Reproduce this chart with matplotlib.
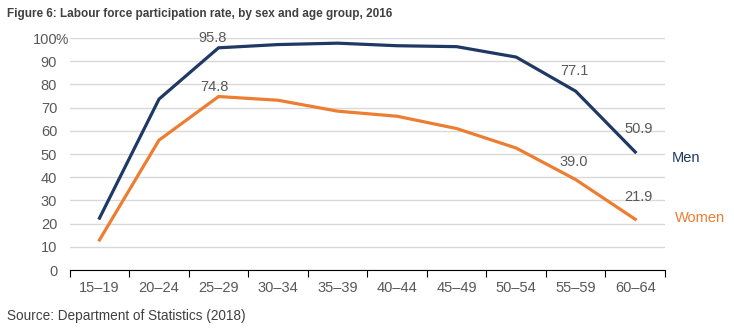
import matplotlib.pyplot as plt
from matplotlib.transforms import offset_copy

plt.rcParams['font.family'] = ['Liberation Sans', 'DejaVu Sans']

age_groups = ['15–19', '20–24', '25–29', '30–34', '35–39', '40–44', '45–49', '50–54', '55–59', '60–64']
men = [22.4, 73.7, 95.8, 97.2, 97.8, 96.7, 96.3, 91.8, 77.1, 50.9]
women = [13.0, 56.0, 74.8, 73.2, 68.5, 66.3, 61.0, 52.6, 39.0, 21.9]

navy = '#1f3864'
orange = '#ed7d31'
grey_text = '#595959'

# data label placement (index -> offset in points)
men_lbl = {2: (-4.3, 7.2), 8: (-0.7, 14.4), 9: (2.2, 16.6)}
women_lbl = {2: (-2.9, 7.2), 8: (-1.4, 13.0), 9: (2.2, 15.8)}

fig = plt.figure(figsize=(7.34, 3.31), dpi=100)
ax = fig.add_axes([0.095, 0.184, 0.811, 0.701])

x = list(range(len(age_groups)))
ax.plot(x, men, color=navy, lw=2.3, solid_joinstyle='miter')
ax.plot(x, women, color=orange, lw=2.3, solid_joinstyle='miter')

for vals, lbls in ((men, men_lbl), (women, women_lbl)):
    for i, off in lbls.items():
        ax.annotate(f'{vals[i]:.1f}', (i, vals[i]), xytext=off, textcoords='offset points',
                    ha='center', va='center', fontsize=10.5, color=grey_text)

ax.annotate('Men', (9, men[9]), xytext=(26.6, -4.3), textcoords='offset points',
            ha='left', va='center', fontsize=10.5, color=navy)
ax.annotate('Women', (9, women[9]), xytext=(28.8, 0.8), textcoords='offset points',
            ha='left', va='center', fontsize=10.5, color=orange)

ax.set_xlim(-0.5, len(age_groups) - 0.5)
ax.set_ylim(0, 100)
ax.set_yticks(range(0, 101, 10))
ax.set_yticklabels([str(v) for v in range(0, 101, 10)])
ax.yaxis.grid(True, color='#d9d9d9', lw=1)
ax.set_axisbelow(True)
ax.tick_params(axis='y', length=0, pad=9, labelsize=10.5, labelcolor=grey_text)

# % sign after the 100 label
ax.text(0, 100, '%', transform=offset_copy(ax.get_yaxis_transform(), fig=fig, x=-10, y=0, units='points'),
        ha='left', va='center_baseline', fontsize=10, color=grey_text)

ax.set_xticks([i + 0.5 for i in range(-1, len(age_groups))])
ax.set_xticklabels([])
ax.set_xticks(x, minor=True)
ax.set_xticklabels(age_groups, minor=True)
ax.tick_params(axis='x', which='major', direction='out', length=5, color='black')
ax.tick_params(axis='x', which='minor', length=0, pad=8, labelsize=10.5, labelcolor=grey_text)

for s in ['top', 'right', 'left']:
    ax.spines[s].set_visible(False)
ax.spines['bottom'].set_color('black')

fig.text(0.01, 0.958, 'Figure 6: Labour force participation rate, by sex and age group, 2016',
         fontsize=8.5, fontweight='bold', color='#404040', ha='left', va='center')
fig.text(0.01, 0.045, 'Source: Department of Statistics (2018)',
         fontsize=9.8, color='#404040', ha='left', va='center')

fig.savefig('out.png', dpi=100)
